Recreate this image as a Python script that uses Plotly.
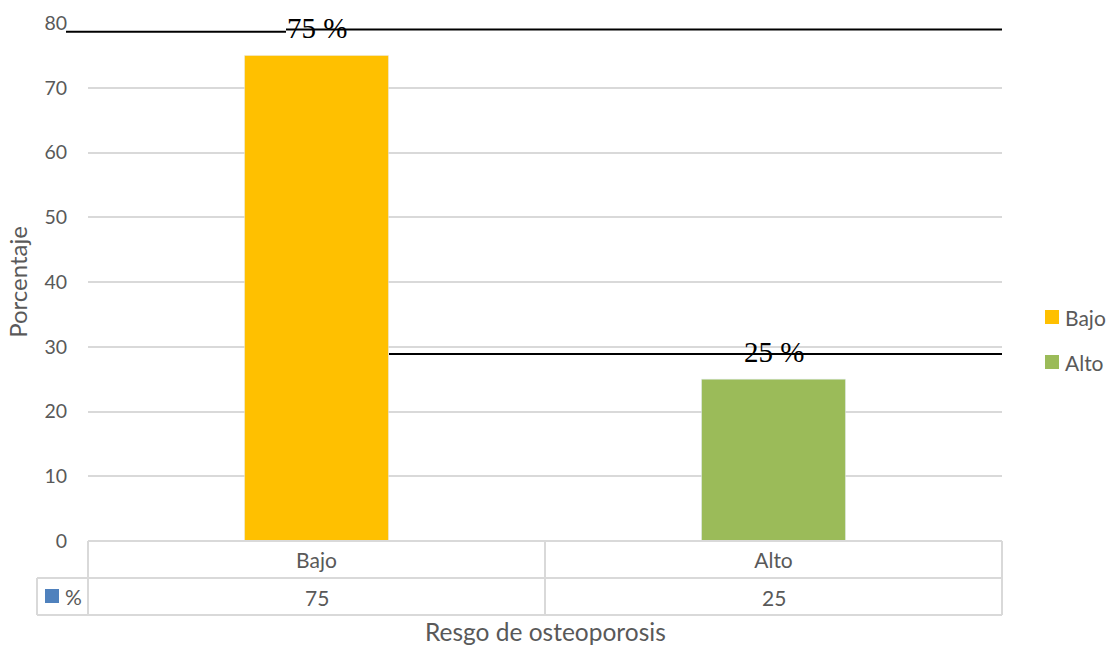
import plotly.graph_objects as go

# Data
categories = ["Bajo", "Alto"]
values = [75, 25]
colors = ["#FFC000", "#9BBB59"]
series_name = "%"
y_ticks = [0, 10, 20, 30, 40, 50, 60, 70, 80]

# Figure geometry (pixels)
W, H = 1108, 646
ML, MR, MT, MB = 88, 106, 23, 105
PW, PH = W - ML - MR, H - MT - MB

GREY_TXT = "#595959"
GRID = "#D9D9D9"
FONT = "Lato"


def fx(px):
    """pixel x -> paper x"""
    return (px - ML) / PW


def fy(py):
    """pixel y -> paper y"""
    return (H - MB - py) / PH


fig = go.Figure()
for cat, val, col in zip(categories, values, colors):
    fig.add_bar(x=[cat], y=[val], name=cat, marker_color=col, width=0.315,
                showlegend=False)

shapes = []
annotations = []

# hide the top gridline
shapes.append(dict(type="line", xref="paper", yref="y", x0=0, x1=1, y0=80, y1=80,
                   line=dict(color="white", width=3), layer="above"))

# black rule lines around the data labels
shapes.append(dict(type="line", xref="paper", yref="paper", x0=fx(66), x1=fx(286),
                   y0=fy(31.7), y1=fy(31.7), line=dict(color="black", width=2)))
shapes.append(dict(type="line", xref="paper", yref="paper", x0=fx(286), x1=fx(1002),
                   y0=fy(29.5), y1=fy(29.5), line=dict(color="black", width=2)))
shapes.append(dict(type="line", xref="paper", yref="paper", x0=fx(389), x1=fx(1002),
                   y0=fy(354), y1=fy(354), line=dict(color="black", width=2)))

# data table grid
tl = dict(color=GRID, width=2)
for (x0, y0, x1, y1) in [
    (88, 541, 1002, 541),
    (37, 578, 1002, 578),
    (37, 615, 1002, 615),
    (37, 578, 37, 615),
    (88, 541, 88, 615),
    (545, 541, 545, 615),
    (1002, 541, 1002, 615),
]:
    shapes.append(dict(type="line", xref="paper", yref="paper",
                       x0=fx(x0), x1=fx(x1), y0=fy(y0), y1=fy(y1), line=tl))

# legend key inside the table
shapes.append(dict(type="rect", xref="paper", yref="paper",
                   x0=fx(45), x1=fx(59), y0=fy(603), y1=fy(589),
                   fillcolor="#4F81BD", line=dict(width=0)))
annotations.append(dict(x=fx(63), y=fy(596), xref="paper", yref="paper",
                        text=series_name, showarrow=False, xanchor="left",
                        yanchor="middle", font=dict(family=FONT, size=21, color=GREY_TXT)))

# values row of the table
for cat, val in zip(categories, values):
    annotations.append(dict(x=cat, y=fy(597), xref="x", yref="paper", text=str(val),
                            showarrow=False, yanchor="middle",
                            font=dict(family=FONT, size=21, color=GREY_TXT)))

# data labels above bars
for cat, val in zip(categories, values):
    annotations.append(dict(x=cat, y=val, xref="x", yref="y", text=f"{val} %",
                            showarrow=False, yanchor="middle", yshift=27,
                            font=dict(family="Liberation Serif", size=29, color="black")))

# legend at the right
legend_rows_y = [317, 362]
for cat, col, ly in zip(categories, colors, legend_rows_y):
    shapes.append(dict(type="rect", xref="paper", yref="paper",
                       x0=fx(1045), x1=fx(1059), y0=fy(ly + 7), y1=fy(ly - 7),
                       fillcolor=col, line=dict(width=0)))
    annotations.append(dict(x=fx(1063), y=fy(ly), xref="paper", yref="paper",
                            text=cat, showarrow=False, xanchor="left", yanchor="middle",
                            font=dict(family=FONT, size=21, color=GREY_TXT)))

# x axis title below the table
annotations.append(dict(x=0.5, y=fy(631), xref="paper", yref="paper",
                        text="Resgo de osteoporosis", showarrow=False, yanchor="middle",
                        font=dict(family=FONT, size=24.5, color=GREY_TXT)))

fig.update_layout(
    width=W, height=H,
    margin=dict(l=ML, r=MR, t=MT, b=MB, autoexpand=False),
    paper_bgcolor="white", plot_bgcolor="white",
    barmode="overlay",
    showlegend=False,
    shapes=shapes,
    annotations=annotations,
    xaxis=dict(showgrid=False, zeroline=False, showline=False, ticks="",
               tickfont=dict(family=FONT, size=21, color=GREY_TXT),
               ticklabelstandoff=5, fixedrange=True),
    yaxis=dict(range=[0, 80], tickvals=y_ticks, showgrid=True, gridcolor=GRID,
               gridwidth=1.5, zeroline=False, showline=False, ticks="",
               tickfont=dict(family=FONT, size=19.5, color=GREY_TXT),
               ticklabelstandoff=20,
               title=dict(text="Porcentaje", standoff=9,
                          font=dict(family=FONT, size=24, color=GREY_TXT))),
)

fig.write_html("out.html")
